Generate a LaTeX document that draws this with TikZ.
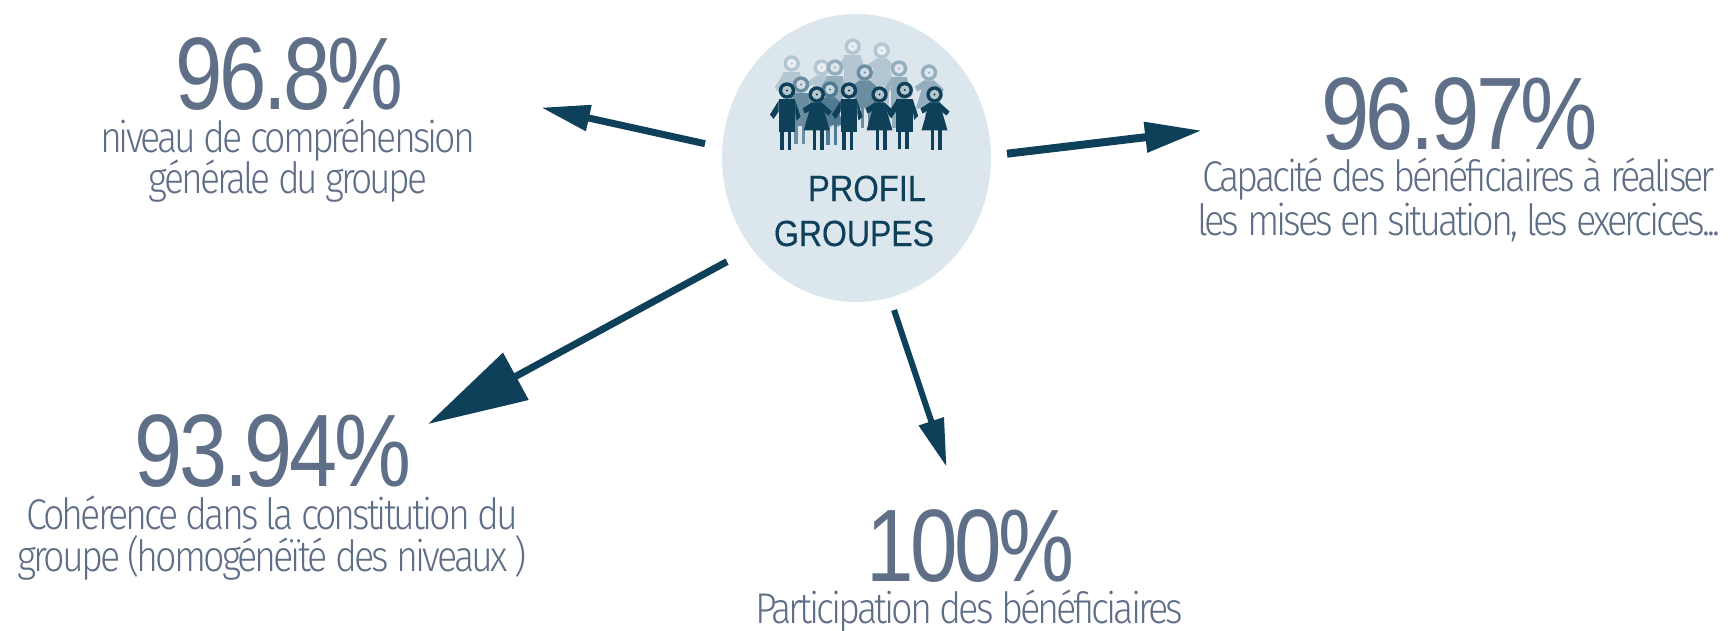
\documentclass[tikz,border=0pt]{standalone}
\usepackage{fontspec}
\usetikzlibrary{arrows.meta,shapes.geometric}
\setmainfont{Fira Sans Light}[LetterSpace=-8]
\newfontfamily\regfont{Liberation Sans}[FakeBold=0.25]
\newfontfamily\numfont{Liberation Sans}[LetterSpace=-4]
\definecolor{numcol}{HTML}{5F6F88}
\definecolor{subcol}{HTML}{5F6E87}
\definecolor{darkcol}{HTML}{0F4059}
\definecolor{hubcol}{HTML}{DCE6ED}
\definecolor{tierA}{HTML}{B3C6D2}
\definecolor{tierB}{HTML}{94AEBE}
\definecolor{tierC}{HTML}{6A8DA2}
\definecolor{tierD}{HTML}{4F7A92}
\tikzset{
  x=1pt,y=-1pt,
  bignum/.style={anchor=base,inner sep=0pt,text=numcol},
  sublabel/.style={anchor=base,inner sep=0pt,text=subcol},
  hubtext/.style={anchor=base,inner sep=0pt,text=darkcol},
  hubshape/.style={ellipse,fill=hubcol,draw=none,inner sep=0pt,minimum width=269pt,minimum height=288pt},
  link/.style={draw=darkcol,line cap=butt},
}
\newcommand{\numtext}[1]{{\numfont\fontsize{103}{103}\selectfont #1}}
\newcommand{\subtext}[1]{\fontsize{43}{43}\selectfont #1}
\newcommand{\hubword}[1]{{\regfont\fontsize{36.5}{36.5}\selectfont #1}}
\newcommand{\headfig}[3]{%
  \fill[#3] (#1,#2) circle (8.2);
  \fill[white,opacity=0.7] (#1,#2) circle (4.8);
  \fill[#3] (#1,#2) circle (1.2);
}
\newcommand{\manfig}[3]{%
 \begin{scope}[shift={(#1,#2)}]
  \fill[#3] (-8.3,8.7) rectangle (8.3,42);
  \fill[#3] (-6.8,42) rectangle (-3.3,59.5);
  \fill[#3] (0.5,42) rectangle (4,59.5);
  \fill[#3] (-8.3,10) -- (-17,24) -- (-13.5,28.5) -- (-8.3,21) -- cycle;
  \fill[#3] (8.3,10) -- (13.5,26) -- (9.5,30) -- (8.3,22) -- cycle;
 \end{scope}
 \headfig{#1}{#2}{#3}
}
\newcommand{\womanfig}[3]{%
 \begin{scope}[shift={(#1,#2)}]
  \fill[#3] (-5,8) -- (5,8) -- (13,36) -- (-13,36) -- cycle;
  \fill[#3] (-4,36) rectangle (-0.5,56);
  \fill[#3] (3.5,36) rectangle (7,56);
  \fill[#3] (-5,8) -- (-14,14) -- (-12,19) -- (-3,14) -- cycle;
  \fill[#3] (5,8) -- (15,17) -- (12,21) -- (3,14) -- cycle;
 \end{scope}
 \headfig{#1}{#2}{#3}
}
\begin{document}
\begin{tikzpicture}
\useasboundingbox (0,0) rectangle (1729,631);
\node[hubshape] (hub) at (856.5,158) {};

% people
\manfig{852.7}{46.5}{tierA}
\womanfig{881.7}{50.5}{tierA}
\manfig{791.7}{63.5}{tierA}
\womanfig{821.7}{67.5}{tierA}
\manfig{835}{67.5}{tierB}
\manfig{899}{68.5}{tierB}
\womanfig{929}{72.5}{tierB}
\womanfig{864.7}{72.5}{tierC}
\manfig{801}{84.5}{tierC}
\womanfig{830}{89.5}{tierD}
\manfig{787}{90.5}{darkcol}
\womanfig{816.7}{94.5}{darkcol}
\manfig{849}{90.5}{darkcol}
\womanfig{879.5}{94.5}{darkcol}
\womanfig{934.5}{94.5}{darkcol}
\manfig{904.7}{90}{darkcol}

\node[hubtext] (profil) at (867,201) {\resizebox{118pt}{\height}{\hubword{PROFIL}}};
\node[hubtext] (groupes) at (854,246) {\resizebox{160pt}{\height}{\hubword{GROUPES}}};

% top-left
\node[bignum] (n1) at (289,110) {\resizebox{228pt}{\height}{\numtext{96.8\%}}};
\node[sublabel] (n1a) at (287.5,153) {\resizebox{375pt}{\height}{\subtext{niveau de compréhension}}};
\node[sublabel] (n1b) at (288,194) {\resizebox{278pt}{\height}{\subtext{générale du groupe}}};
% bottom-left
\node[bignum] (n2) at (273,486) {\resizebox{276pt}{\height}{\numtext{93.94\%}}};
\node[sublabel] (n2a) at (272.5,529) {\resizebox{492pt}{\height}{\subtext{Cohérence dans la constitution du}}};
\node[sublabel] (n2b) at (272.5,571) {\resizebox{509pt}{\height}{\subtext{groupe (homogénéïté des niveaux )}}};
% bottom
\node[bignum] (n3) at (970,581.5) {\resizebox{208pt}{\height}{\numtext{100\%}}};
\node[sublabel] (n3a) at (969,623) {\resizebox{428pt}{\height}{\subtext{Participation des bénéficiaires}}};
% right
\node[bignum] (n4) at (1459.5,150) {\resizebox{277pt}{\height}{\numtext{96.97\%}}};
\node[sublabel] (n4a) at (1458.5,192) {\resizebox{513pt}{\height}{\subtext{Capacité des bénéficiaires à réaliser}}};
\node[sublabel] (n4b) at (1458.5,235) {\resizebox{523pt}{\height}{\subtext{les mises en situation, les exercices...}}};

% arrows
\coordinate (s1) at (705,143.7); \coordinate (t1) at (541,107.5);
\coordinate (s2) at (727,261.6); \coordinate (t2) at (428,424);
\coordinate (s3) at (894,310);   \coordinate (t3) at (946.5,466.8);
\coordinate (s4) at (1007,153.7);\coordinate (t4) at (1202,130.5);
\draw[link,line width=7pt,-{Triangle[length=49pt,width=25pt]}] (s1) -- (t1);
\draw[link,line width=7pt,-{Triangle[length=100pt,width=52pt]}] (s2) -- (t2);
\draw[link,line width=6pt,-{Triangle[length=48pt,width=25pt]}] (s3) -- (t3);
\draw[link,line width=8pt,-{Triangle[length=57pt,width=29pt]}] (s4) -- (t4);
\end{tikzpicture}
\end{document}
